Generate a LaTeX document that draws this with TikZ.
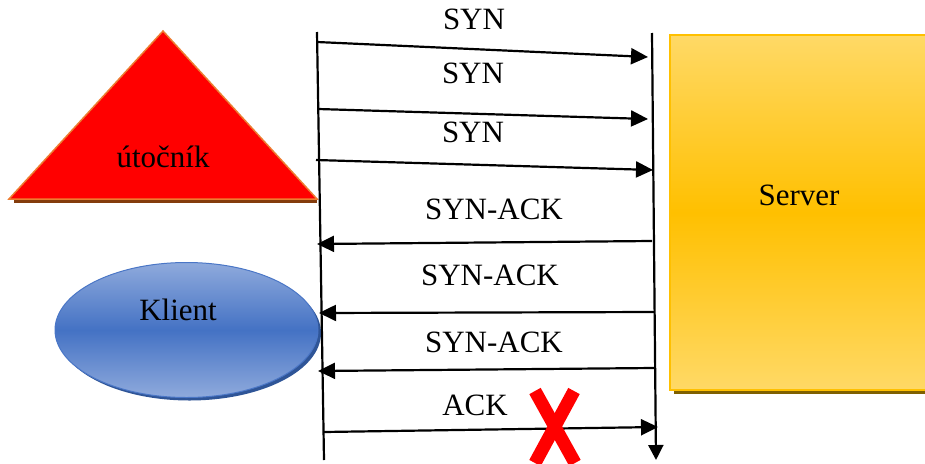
\documentclass[tikz,border=0pt]{standalone}
\usepackage{fontspec}
\setmainfont{Liberation Serif}
\usetikzlibrary{arrows.meta,shapes.geometric}
\definecolor{tri}{HTML}{FF0000}
\definecolor{triline}{HTML}{ED7D31}
\definecolor{trishadow}{HTML}{843C0C}
\definecolor{bluelight}{HTML}{8FAADC}
\definecolor{bluemid}{HTML}{4472C4}
\definecolor{blueline}{HTML}{4A76C6}
\definecolor{blueshadow}{HTML}{2F5597}
\definecolor{yellight}{HTML}{FFD966}
\definecolor{yelmid}{HTML}{FFC000}
\definecolor{yelshadow}{HTML}{7F6000}
\begin{document}
\begin{tikzpicture}[x=1pt,y=-1pt,
  msg/.style={line width=2.2pt, -{Triangle[length=17pt,width=16pt]}},
  lifeline/.style={line width=2.2pt},
  lbl/.style={font=\fontsize{31}{36}\selectfont, inner sep=0pt, anchor=base},
  cross/.style={line width=13pt, tri}]
\useasboundingbox (0,0) rectangle (925,463);

% attacker triangle
\draw[line width=3pt, trishadow] (14,201.5) -- (317,201.5);
\filldraw[fill=tri, draw=triline, line width=1.5pt] (9,199) -- (163,31) -- (317,199) -- cycle;
\node[lbl] (attacker) at (163,167) {útočník};

% client ellipse
\node[ellipse, fill=blueshadow, minimum width=263pt, minimum height=135pt, inner sep=0pt] (clientshadow) at (189.5,333) {};
\node[ellipse, draw=blueline, line width=1pt, top color=bluelight, bottom color=bluelight, middle color=bluemid, minimum width=263pt, minimum height=135pt, inner sep=0pt] (clientshape) at (186.5,330) {};
\node[lbl] (client) at (178,320) {Klient};

% server box
\fill[yelshadow] (674,39) rectangle (935,394);
\shade[top color=yellight, bottom color=yellight, middle color=yelmid] (670,35) rectangle (935,390);
\draw[yelmid, line width=1.5pt] (935,35) -- (670,35) -- (670,390) -- (935,390);
\node[lbl] (server) at (799,205) {Server};

% lifelines
\coordinate (L0) at (317,32);
\coordinate (L1) at (324,460);
\coordinate (R0) at (652,33);
\coordinate (R1) at (656,460);
\draw[lifeline] (L0) -- (L1);
\draw[lifeline, -{Triangle[length=15pt,width=15pt]}] (R0) -- (R1);

% messages
\coordinate (a1) at (317,42);  \coordinate (b1) at (648,57);
\coordinate (a2) at (318,109); \coordinate (b2) at (648,119);
\coordinate (a3) at (316,160); \coordinate (b3) at (653,170);
\coordinate (a4) at (652,241); \coordinate (b4) at (317,244);
\coordinate (a5) at (654,312); \coordinate (b5) at (319,313);
\coordinate (a6) at (654,368); \coordinate (b6) at (318,371);
\coordinate (a7) at (324,432); \coordinate (b7) at (658,427);
\draw[msg] (a1) -- (b1);
\draw[msg] (a2) -- (b2);
\draw[msg] (a3) -- (b3);
\draw[msg] (a4) -- (b4);
\draw[msg] (a5) -- (b5);
\draw[msg] (a6) -- (b6);
\draw[msg] (a7) -- (b7);

\node[lbl] (l1) at (474,29) {SYN};
\node[lbl] (l2) at (473,83) {SYN};
\node[lbl] (l3) at (473,142) {SYN};
\node[lbl] (l4) at (494,219) {SYN-ACK};
\node[lbl] (l5) at (490,285) {SYN-ACK};
\node[lbl] (l6) at (494,352) {SYN-ACK};
\node[lbl] (l7) at (475,415) {ACK};

% red cross
\coordinate (x1) at (535,391); \coordinate (x2) at (575,463);
\coordinate (x3) at (574,391); \coordinate (x4) at (535,463);
\draw[cross] (x1) -- (x2);
\draw[cross] (x3) -- (x4);
\end{tikzpicture}
\end{document}
